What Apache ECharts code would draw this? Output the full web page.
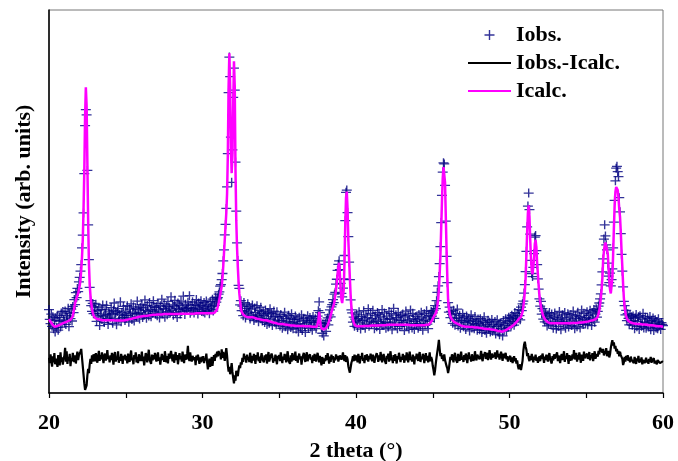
<!DOCTYPE html>
<html>
<head>
<meta charset="utf-8">
<title>XRD refinement</title>
<script src="https://cdn.jsdelivr.net/npm/echarts@6/dist/echarts.min.js"></script>
<style>
  html, body { margin: 0; padding: 0; background: #fff; }
  #chart { width: 678px; height: 461px; }
</style>
</head>
<body>
<div id="chart"></div>
<script>
// 2 theta grid: 20 -> 60 deg, step 0.05 (one row below = one degree)
var thetaStart = 20
var thetaStep = 0.05
var xTicks = [20, 30, 40, 50, 60]
var legendNames = ['Iobs.', 'Iobs.-Icalc.', 'Icalc.']

// observed intensity (arb. units)
var iObs = [
  21.8, 19.2, 18.1, 20.6, 17.4, 19.9, 16.8, 18.9, 15.9, 19.6, 17.1, 20.3, 16.4, 18.8, 19.7, 17.2, 20.9, 18.0, 21.3, 19.1,
  18.6, 21.4, 17.9, 20.2, 19.8, 22.1, 17.3, 20.7, 19.4, 21.9, 18.8, 22.6, 21.0, 24.4, 23.1, 26.2, 24.9, 27.3, 26.5, 29.0,
  30.2, 31.8, 33.5, 37.9, 41.2, 47.0, 57.3, 69.8, 74.0, 72.6, 58.1, 43.9, 34.8, 27.6, 24.1, 22.8, 21.3, 23.4, 20.7, 22.5,
  20.8, 23.2, 18.7, 21.5, 19.9, 22.4, 17.6, 20.3, 21.8, 19.2, 23.0, 20.1, 18.4, 21.7, 20.6, 22.9, 19.5, 17.9, 21.2, 20.4,
  19.8, 22.3, 20.7, 18.2, 21.6, 23.5, 19.4, 20.9, 17.8, 21.3, 22.0, 19.1, 20.5, 23.8, 18.6, 21.0, 19.7, 22.6, 20.2, 18.9,
  21.4, 19.6, 22.8, 20.3, 18.5, 21.9, 20.8, 23.3, 19.2, 21.1, 22.5, 18.8, 20.6, 22.1, 19.9, 24.0, 20.7, 21.8, 19.3, 22.4,
  21.0, 23.1, 19.7, 22.2, 20.4, 24.3, 21.6, 19.5, 22.9, 21.3, 20.1, 23.6, 21.8, 19.9, 22.7, 20.8, 24.1, 21.4, 22.3, 20.6,
  22.5, 20.2, 23.4, 21.7, 19.6, 22.8, 21.1, 24.5, 20.7, 22.0, 23.3, 19.8, 21.9, 22.6, 20.4, 23.9, 21.2, 22.4, 20.9, 25.1,
  21.5, 23.0, 20.3, 22.7, 24.2, 21.0, 22.1, 19.7, 23.5, 21.8, 22.9, 20.6, 24.0, 21.3, 22.4, 25.3, 21.9, 20.5, 23.2, 22.0,
  21.6, 23.7, 22.3, 25.4, 20.8, 22.9, 21.4, 23.8, 22.0, 20.9, 23.1, 21.7, 24.4, 22.2, 20.6, 23.5, 21.9, 22.8, 24.1, 21.3,
  22.7, 21.2, 23.6, 20.9, 22.4, 24.0, 21.5, 23.0, 22.1, 20.7, 23.9, 21.8, 22.6, 24.5, 21.4, 23.3, 22.9, 25.0, 23.7, 24.6,
  24.9, 25.8, 26.4, 27.9, 28.3, 29.6, 31.2, 34.5, 37.4, 41.3, 44.0, 48.2, 53.8, 62.5, 78.4, 87.7, 82.6, 66.8, 55.0, 63.5,
  77.2, 84.8, 79.1, 60.3, 47.5, 39.2, 34.6, 28.1, 27.3, 23.0, 24.1, 21.5, 22.7, 20.2, 23.6, 21.4, 19.6, 22.1, 20.8, 23.3,
  21.1, 22.6, 19.3, 21.9, 20.4, 23.0, 20.0, 18.9, 22.2, 21.0, 19.6, 22.8, 20.3, 18.6, 21.5, 19.9, 22.4, 20.7, 18.8, 21.3,
  20.2, 18.4, 21.7, 19.5, 17.9, 21.0, 20.6, 18.2, 22.0, 19.3, 20.8, 17.6, 19.9, 21.4, 18.5, 20.1, 17.8, 21.2, 19.0, 18.3,
  19.8, 17.5, 20.5, 18.9, 16.9, 20.0, 18.2, 21.1, 17.3, 19.4, 18.7, 16.5, 20.3, 18.0, 19.6, 17.1, 20.7, 18.4, 16.8, 19.2,
  18.6, 20.1, 16.7, 19.3, 17.9, 15.9, 19.8, 18.1, 17.0, 20.4, 16.3, 18.8, 19.5, 17.4, 15.8, 19.0, 18.3, 20.2, 16.9, 18.5,
  19.7, 17.2, 18.9, 16.4, 20.0, 18.3, 17.7, 19.4, 16.8, 18.6, 20.1, 21.5, 23.8, 21.0, 18.4, 17.3, 15.6, 18.1, 14.9, 17.5,
  18.2, 16.1, 18.9, 19.6, 17.8, 20.4, 21.7, 19.9, 22.5, 23.1, 24.4, 23.6, 25.8, 26.3, 28.4, 29.7, 32.0, 33.6, 34.5, 32.2,
  28.6, 26.0, 25.1, 27.4, 29.8, 35.9, 45.0, 52.4, 53.0, 47.1, 40.8, 34.2, 29.6, 24.3, 21.7, 20.9, 18.5, 19.8, 17.4, 19.3,
  18.8, 20.6, 17.1, 19.5, 21.2, 18.3, 16.7, 20.0, 18.9, 17.6, 21.5, 19.1, 16.9, 20.4, 18.0, 19.7, 22.0, 17.4, 18.6, 20.8,
  17.9, 19.4, 21.6, 18.5, 16.8, 20.2, 19.0, 17.3, 21.0, 18.7, 20.5, 16.6, 19.8, 18.2, 21.8, 17.7, 19.3, 20.9, 18.4, 16.9,
  20.1, 18.6, 17.2, 21.3, 19.5, 18.0, 20.7, 16.5, 19.2, 22.1, 18.3, 17.6, 20.4, 19.7, 16.8, 21.0, 18.9, 17.4, 20.2, 19.0,
  17.7, 20.6, 18.4, 16.3, 19.9, 21.4, 17.5, 18.8, 20.3, 16.7, 19.1, 21.7, 18.1, 17.0, 20.8, 19.4, 16.6, 18.7, 20.0, 17.9,
  19.2, 16.9, 20.5, 18.2, 17.4, 21.1, 19.6, 16.4, 18.9, 20.7, 17.8, 19.3, 21.5, 18.0, 16.8, 20.2, 18.7, 19.9, 21.3, 20.1,
  20.9, 21.6, 19.5, 22.8, 22.0, 24.1, 26.3, 28.0, 30.4, 33.8, 38.2, 44.5, 51.6, 57.7, 60.1, 59.8, 54.2, 44.9, 35.7, 28.8,
  23.6, 21.1, 22.4, 19.7, 21.3, 20.5, 18.2, 21.6, 19.4, 17.7, 20.8, 18.9, 21.9, 17.5, 19.6, 20.3, 16.9, 19.0, 18.6, 20.7,
  17.3, 19.8, 18.4, 16.6, 20.1, 18.9, 17.7, 19.5, 16.2, 18.7, 20.4, 17.0, 19.1, 18.2, 16.8, 20.0, 17.9, 18.6, 16.4, 19.3,
  18.1, 16.5, 19.4, 17.6, 15.8, 18.8, 17.2, 19.9, 16.3, 18.4, 15.6, 17.9, 19.0, 16.7, 18.5, 15.9, 17.4, 19.2, 16.1, 17.8,
  16.6, 18.7, 15.4, 17.3, 19.1, 16.0, 17.9, 15.2, 18.3, 16.8, 17.5, 14.9, 18.9, 16.4, 17.7, 19.4, 16.2, 18.6, 17.1, 19.8,
  18.2, 19.6, 17.5, 20.3, 18.8, 19.9, 17.7, 21.0, 19.3, 18.6, 20.7, 19.4, 21.8, 20.2, 19.1, 22.4, 21.5, 23.3, 24.0, 26.1,
  28.3, 31.7, 37.0, 43.4, 48.8, 52.2, 47.9, 41.5, 34.6, 31.2, 30.4, 32.8, 36.4, 40.7, 41.1, 37.2, 33.5, 29.8, 27.1, 24.6,
  22.7, 23.9, 20.6, 22.0, 19.3, 21.4, 18.6, 20.8, 19.9, 17.5, 20.2, 18.1, 21.0, 19.4, 17.8, 20.6, 18.5, 16.9, 19.7, 20.9,
  18.3, 16.7, 20.1, 19.2, 17.4, 21.3, 18.8, 16.5, 19.6, 20.4, 17.9, 18.6, 21.0, 16.9, 19.3, 18.1, 20.7, 17.2, 19.8, 18.4,
  20.5, 17.6, 19.0, 21.4, 18.2, 16.8, 20.2, 19.5, 17.3, 21.1, 18.7, 20.0, 17.0, 19.6, 21.7, 18.4, 17.9, 20.8, 19.2, 18.0,
  19.7, 21.2, 17.8, 20.3, 18.9, 21.6, 19.4, 17.6, 20.9, 19.1, 21.8, 18.5, 20.6, 22.0, 19.8, 21.3, 22.7, 23.5, 24.6, 25.9,
  28.2, 31.6, 35.0, 40.2, 43.9, 41.0, 38.7, 37.4, 33.9, 30.5, 28.8, 31.3, 28.0, 29.6, 32.4, 37.9, 44.6, 50.3, 55.4, 58.7,
  59.2, 57.8, 56.5, 51.0, 47.3, 41.6, 36.2, 31.8, 27.7, 23.9, 22.8, 20.4, 21.6, 18.9, 20.7, 19.5, 17.8, 20.3, 18.6, 19.9,
  17.7, 20.1, 18.9, 16.8, 19.6, 20.5, 17.3, 18.7, 19.9, 16.6, 20.2, 18.1, 17.4, 19.3, 20.8, 17.0, 18.5, 19.8, 16.9, 18.3,
  19.5, 17.2, 18.6, 20.0, 16.5, 18.9, 17.8, 19.6, 16.3, 18.2, 19.1, 17.0, 18.7, 16.8, 19.4, 17.5, 18.0, 16.6, 18.4, 17.9,
  17.6
]

// calculated profile
var iCalc = [
  19.3, 19.0, 18.6, 18.3, 18.0, 17.7, 17.5, 17.3, 17.2, 17.3, 17.4, 17.5, 17.6, 17.7, 17.8, 17.9, 18.0, 18.1, 18.2, 18.3,
  18.3, 18.4, 18.5, 18.6, 18.7, 18.8, 18.9, 19.0, 19.1, 19.2, 19.3, 20.0, 21.2, 22.3, 23.5, 24.2, 24.8, 25.4, 26.0, 27.0,
  28.0, 29.5, 32.0, 35.5, 40.0, 48.0, 58.0, 72.0, 79.8, 75.0, 60.0, 45.0, 34.0, 28.5, 25.5, 23.5, 22.0, 21.0, 20.3, 19.9,
  19.6, 19.5, 19.4, 19.3, 19.3, 19.2, 19.2, 19.1, 19.1, 19.0, 19.0, 19.0, 19.0, 19.0, 19.0, 19.0, 19.0, 19.0, 19.0, 19.0,
  19.0, 19.0, 19.0, 19.0, 19.0, 18.9, 18.9, 18.9, 18.9, 18.9, 18.9, 18.9, 18.9, 18.9, 18.9, 18.9, 18.9, 18.9, 19.0, 19.0,
  19.0, 19.1, 19.1, 19.2, 19.2, 19.3, 19.3, 19.4, 19.4, 19.5, 19.5, 19.6, 19.6, 19.7, 19.7, 19.8, 19.8, 19.9, 19.9, 20.0,
  20.0, 20.0, 20.0, 20.1, 20.1, 20.1, 20.1, 20.2, 20.2, 20.2, 20.2, 20.3, 20.3, 20.3, 20.3, 20.4, 20.4, 20.4, 20.4, 20.5,
  20.5, 20.5, 20.5, 20.5, 20.5, 20.5, 20.5, 20.5, 20.5, 20.5, 20.6, 20.6, 20.6, 20.6, 20.6, 20.6, 20.6, 20.6, 20.6, 20.6,
  20.6, 20.6, 20.6, 20.6, 20.6, 20.6, 20.6, 20.6, 20.6, 20.6, 20.7, 20.7, 20.7, 20.7, 20.7, 20.7, 20.7, 20.7, 20.7, 20.7,
  20.7, 20.7, 20.7, 20.7, 20.7, 20.7, 20.7, 20.7, 20.7, 20.7, 20.8, 20.8, 20.8, 20.8, 20.8, 20.8, 20.8, 20.8, 20.8, 20.8,
  20.8, 20.8, 20.8, 20.8, 20.8, 20.8, 20.8, 20.8, 20.8, 20.8, 20.8, 20.8, 20.8, 20.8, 20.9, 20.9, 21.0, 21.0, 21.2, 21.8,
  22.6, 23.5, 24.5, 25.6, 26.7, 27.8, 30.0, 33.0, 36.5, 40.0, 43.5, 47.0, 52.0, 62.0, 80.0, 88.7, 80.0, 64.0, 57.4, 62.0,
  75.0, 86.6, 80.0, 58.0, 45.0, 38.0, 33.0, 29.0, 26.0, 24.0, 22.2, 21.2, 20.8, 20.5, 20.3, 20.1, 20.0, 19.9, 19.8, 19.8,
  19.8, 19.8, 19.8, 19.8, 19.8, 19.8, 19.8, 19.7, 19.6, 19.6, 19.5, 19.4, 19.4, 19.3, 19.3, 19.2, 19.2, 19.1, 19.1, 19.0,
  19.0, 19.0, 19.0, 19.0, 19.0, 18.9, 18.8, 18.7, 18.6, 18.6, 18.5, 18.5, 18.4, 18.4, 18.3, 18.3, 18.2, 18.2, 18.1, 18.1,
  18.1, 18.0, 18.0, 18.0, 18.0, 17.9, 17.9, 17.9, 17.8, 17.8, 17.8, 17.7, 17.7, 17.7, 17.7, 17.6, 17.6, 17.6, 17.6, 17.6,
  17.6, 17.6, 17.5, 17.5, 17.5, 17.5, 17.5, 17.5, 17.5, 17.5, 17.5, 17.5, 17.4, 17.4, 17.4, 17.4, 17.4, 17.4, 17.4, 17.4,
  17.4, 17.4, 17.4, 17.3, 17.3, 17.3, 17.3, 17.3, 17.3, 17.3, 17.6, 19.0, 21.2, 19.5, 17.5, 16.9, 16.7, 16.6, 16.6, 16.7,
  16.8, 17.0, 17.3, 17.7, 18.2, 18.8, 19.5, 20.3, 21.0, 21.8, 22.2, 23.0, 24.0, 25.5, 27.0, 28.8, 31.0, 33.0, 34.0, 31.0,
  27.0, 24.5, 23.5, 24.0, 27.0, 34.0, 44.0, 51.0, 52.6, 48.0, 40.0, 35.0, 30.0, 25.5, 22.5, 20.4, 19.2, 18.4, 17.9, 17.6,
  17.4, 17.4, 17.4, 17.4, 17.4, 17.4, 17.4, 17.4, 17.4, 17.4, 17.5, 17.5, 17.5, 17.5, 17.5, 17.5, 17.5, 17.5, 17.5, 17.5,
  17.6, 17.6, 17.6, 17.6, 17.6, 17.6, 17.6, 17.6, 17.6, 17.6, 17.7, 17.7, 17.7, 17.7, 17.7, 17.7, 17.7, 17.7, 17.7, 17.7,
  17.8, 17.8, 17.8, 17.8, 17.8, 17.8, 17.8, 17.8, 17.8, 17.8, 17.8, 17.8, 17.8, 17.8, 17.8, 17.8, 17.8, 17.8, 17.8, 17.8,
  17.8, 17.8, 17.8, 17.8, 17.8, 17.8, 17.8, 17.8, 17.8, 17.8, 17.7, 17.7, 17.7, 17.7, 17.7, 17.7, 17.7, 17.7, 17.7, 17.7,
  17.7, 17.7, 17.7, 17.7, 17.7, 17.7, 17.7, 17.7, 17.7, 17.7, 17.7, 17.7, 17.8, 17.8, 17.9, 17.9, 18.0, 18.3, 18.6, 19.0,
  19.4, 19.8, 20.2, 20.5, 20.8, 21.5, 22.8, 24.3, 27.0, 31.0, 36.0, 43.0, 50.0, 56.0, 59.0, 59.5, 55.0, 46.0, 37.3, 30.0,
  24.3, 22.0, 20.8, 20.0, 19.5, 19.2, 18.9, 18.7, 18.5, 18.4, 18.3, 18.2, 18.1, 18.0, 17.9, 17.8, 17.7, 17.6, 17.5, 17.4,
  17.4, 17.4, 17.4, 17.3, 17.3, 17.3, 17.3, 17.3, 17.2, 17.2, 17.2, 17.2, 17.2, 17.1, 17.1, 17.1, 17.1, 17.1, 17.1, 17.1,
  17.1, 17.0, 17.0, 17.0, 16.9, 16.9, 16.9, 16.8, 16.8, 16.8, 16.7, 16.7, 16.7, 16.7, 16.6, 16.6, 16.6, 16.6, 16.5, 16.5,
  16.5, 16.4, 16.4, 16.3, 16.3, 16.2, 16.2, 16.1, 16.1, 16.0, 16.0, 16.0, 16.1, 16.2, 16.3, 16.4, 16.5, 16.6, 16.7, 16.8,
  17.0, 17.1, 17.3, 17.4, 17.5, 17.7, 17.9, 18.1, 18.3, 18.5, 18.8, 19.0, 19.3, 19.5, 19.7, 19.9, 20.2, 21.2, 22.5, 24.2,
  26.5, 30.0, 36.0, 42.0, 47.0, 49.0, 46.0, 40.0, 35.0, 32.0, 31.0, 31.0, 35.0, 39.0, 40.0, 38.0, 34.0, 31.0, 28.0, 25.5,
  23.8, 22.5, 21.5, 20.7, 20.1, 19.6, 19.3, 19.0, 18.8, 18.6, 18.5, 18.4, 18.3, 18.3, 18.2, 18.2, 18.2, 18.2, 18.2, 18.2,
  18.2, 18.2, 18.2, 18.2, 18.2, 18.2, 18.2, 18.2, 18.2, 18.2, 18.2, 18.2, 18.2, 18.2, 18.2, 18.2, 18.2, 18.2, 18.2, 18.2,
  18.3, 18.3, 18.3, 18.3, 18.3, 18.3, 18.3, 18.3, 18.3, 18.3, 18.4, 18.4, 18.4, 18.4, 18.4, 18.5, 18.5, 18.5, 18.5, 18.5,
  18.6, 18.6, 18.7, 18.7, 18.8, 18.8, 18.9, 18.9, 19.0, 19.0, 19.1, 19.2, 19.3, 19.4, 19.6, 19.9, 20.4, 21.5, 23.0, 24.8,
  26.9, 30.0, 34.7, 37.0, 38.5, 39.3, 39.5, 39.0, 36.5, 33.0, 29.5, 27.0, 26.0, 26.5, 30.0, 36.0, 43.0, 49.0, 52.5, 53.8,
  53.9, 53.0, 51.0, 48.0, 46.0, 42.0, 37.0, 33.0, 28.5, 24.8, 22.5, 21.0, 20.0, 19.4, 19.0, 18.8, 18.6, 18.5, 18.4, 18.3,
  18.2, 18.2, 18.2, 18.1, 18.1, 18.1, 18.1, 18.0, 18.0, 18.0, 18.0, 18.0, 17.9, 17.9, 17.9, 17.9, 17.9, 17.8, 17.8, 17.8,
  17.8, 17.8, 17.7, 17.7, 17.7, 17.7, 17.6, 17.6, 17.6, 17.6, 17.5, 17.5, 17.5, 17.5, 17.4, 17.4, 17.4, 17.4, 17.3, 17.3,
  17.3
]

// difference curve, drawn with an offset below the pattern
var iDiff = [
  9.2, 7.8, 10.1, 8.3, 6.9, 9.6, 8.0, 10.4, 7.5, 9.0, 8.4, 6.8, 9.9, 8.7, 7.2, 10.6, 8.1, 9.3, 7.4, 8.9,
  9.7, 11.8, 8.2, 10.9, 7.6, 9.4, 8.5, 10.2, 7.0, 9.1, 8.3, 10.5, 9.0, 8.1, 9.8, 7.7, 9.5, 10.8, 8.6, 9.9,
  9.4, 10.8, 11.5, 9.2, 7.0, 4.8, 2.5, 0.8, 0.3, 2.0, 4.6, 6.3, 5.2, 7.4, 8.9, 7.6, 9.8, 8.2, 10.1, 9.0,
  8.3, 10.4, 9.1, 7.9, 9.6, 11.0, 8.4, 9.9, 8.8, 10.6, 9.3, 7.8, 9.7, 10.3, 8.5, 9.2, 11.2, 8.9, 9.5, 8.0,
  9.8, 8.6, 10.5, 9.0, 7.4, 9.9, 10.7, 8.2, 9.4, 8.7, 10.9, 7.9, 9.3, 8.4, 10.2, 9.1, 7.6, 9.7, 8.8, 10.0,
  8.5, 9.6, 7.7, 10.3, 9.0, 8.1, 9.8, 11.1, 8.6, 9.2, 7.5, 9.9, 8.9, 10.6, 8.0, 9.4, 7.8, 10.1, 9.3, 8.4,
  9.1, 10.8, 8.3, 9.5, 7.2, 8.9, 10.4, 9.7, 8.0, 9.6, 11.3, 8.7, 9.2, 7.6, 10.0, 8.5, 9.9, 8.8, 10.5, 9.0,
  8.2, 9.7, 10.6, 8.4, 9.3, 7.4, 9.0, 10.2, 8.6, 9.8, 8.1, 10.9, 9.4, 8.0, 9.6, 7.7, 10.3, 8.9, 9.1, 11.0,
  9.5, 8.3, 10.1, 7.9, 9.2, 10.7, 8.6, 9.9, 7.5, 9.0, 10.4, 8.8, 9.6, 8.2, 10.8, 9.3, 7.8, 10.0, 9.4, 8.7,
  10.2, 12.3, 9.1, 8.4, 10.6, 9.0, 8.2, 9.7, 10.1, 8.6, 9.4, 7.3, 9.8, 8.5, 10.0, 8.9, 7.6, 9.3, 8.0, 9.5,
  8.3, 9.6, 7.8, 9.1, 8.5, 10.3, 8.0, 6.2, 7.4, 9.0, 6.8, 8.2, 9.4, 7.1, 8.7, 9.9, 8.4, 10.2, 9.3, 10.8,
  9.6, 11.0, 9.9, 10.5, 8.8, 11.4, 9.2, 10.7, 9.6, 8.4, 10.1, 11.7, 9.8, 7.3, 5.6, 6.8, 4.9, 6.2, 7.8, 5.5,
  3.9, 2.5, 4.6, 3.2, 5.8, 6.1, 4.4, 6.0, 7.2, 6.5, 8.0, 7.4, 9.2, 8.1, 10.3, 8.9, 9.6, 7.9, 10.0, 8.6,
  9.4, 8.1, 10.5, 9.2, 7.8, 9.7, 8.5, 10.2, 9.0, 7.6, 9.9, 8.7, 10.6, 8.3, 9.5, 7.9, 9.1, 10.4, 8.8, 9.3,
  8.0, 9.8, 8.6, 10.1, 7.7, 9.4, 10.7, 8.2, 9.0, 8.5, 10.3, 9.6, 7.9, 9.1, 8.4, 10.0, 8.8, 7.5, 9.7, 8.9,
  9.9, 8.3, 10.6, 9.1, 7.8, 9.5, 8.7, 10.2, 9.3, 8.0, 9.6, 10.9, 8.5, 9.0, 7.6, 9.8, 8.2, 10.4, 9.2, 8.6,
  9.5, 10.8, 8.4, 9.7, 7.9, 9.2, 10.3, 8.8, 9.6, 7.4, 9.1, 8.6, 10.5, 9.0, 8.1, 9.9, 10.6, 8.3, 9.4, 8.9,
  10.1, 8.7, 9.3, 7.8, 9.8, 8.4, 10.2, 9.0, 8.2, 9.6, 10.5, 9.1, 8.0, 9.7, 8.5, 7.2, 9.4, 8.8, 7.6, 9.0,
  8.3, 9.9, 8.6, 10.4, 9.2, 7.7, 9.5, 8.1, 10.0, 8.8, 9.6, 7.9, 9.3, 8.5, 10.1, 8.9, 9.7, 8.2, 9.0, 9.8,
  10.3, 8.7, 9.4, 10.6, 9.0, 8.4, 9.9, 8.1, 9.5, 8.8, 7.0, 6.1, 5.3, 6.6, 7.9, 8.5, 9.6, 8.3, 10.0, 9.1,
  8.5, 9.8, 8.0, 10.2, 9.3, 7.7, 9.6, 8.9, 10.5, 8.4, 9.1, 7.8, 9.9, 8.6, 10.1, 9.4, 8.2, 9.7, 8.8, 10.3,
  9.0, 8.3, 10.0, 9.5, 7.9, 9.2, 8.7, 10.4, 9.6, 8.1, 9.8, 8.5, 10.7, 9.3, 8.0, 9.4, 10.2, 8.8, 9.1, 7.6,
  9.7, 8.9, 10.3, 8.2, 9.5, 10.9, 8.6, 9.2, 7.8, 9.9, 8.4, 10.1, 9.0, 7.7, 9.6, 8.8, 10.5, 9.3, 8.1, 9.4,
  8.7, 10.2, 9.1, 7.9, 9.8, 8.5, 10.6, 9.3, 8.0, 9.7, 10.8, 8.6, 9.4, 8.2, 10.0, 9.2, 7.5, 9.6, 8.9, 10.3,
  9.0, 8.4, 9.9, 10.7, 8.1, 9.5, 8.8, 10.2, 9.6, 7.8, 9.3, 10.4, 8.5, 9.7, 8.0, 9.1, 10.6, 8.3, 9.4, 8.7,
  7.1, 6.0, 4.6, 5.9, 7.8, 9.4, 10.8, 12.2, 13.9, 11.5, 9.6, 10.4, 8.9, 9.8, 8.3, 10.1, 8.6, 7.8, 7.0, 6.4,
  5.2, 6.3, 7.9, 9.4, 8.6, 10.1, 9.2, 8.0, 9.7, 10.5, 8.8, 9.3, 7.9, 10.2, 9.0, 8.4, 9.6, 10.8, 8.7, 9.5,
  8.1, 9.9, 8.6, 10.3, 9.2, 7.8, 9.4, 10.6, 8.9, 9.5, 8.2, 10.1, 9.7, 8.4, 9.0, 10.9, 9.3, 8.5, 10.0, 9.6,
  10.4, 8.8, 9.5, 11.0, 9.1, 8.3, 10.2, 9.6, 10.7, 8.9, 9.8, 10.5, 8.6, 9.4, 11.2, 9.9, 8.7, 10.3, 9.2, 10.0,
  9.4, 10.6, 8.9, 9.8, 11.1, 9.3, 10.2, 8.7, 9.9, 10.8, 9.5, 8.4, 10.3, 9.1, 9.7, 10.5, 8.8, 9.6, 8.2, 9.0,
  8.6, 9.7, 8.1, 9.3, 7.8, 8.9, 9.6, 8.3, 9.1, 7.7, 8.5, 7.0, 6.2, 6.8, 7.5, 6.0, 6.3, 8.4, 10.9, 12.6,
  13.4, 12.1, 11.3, 9.6, 10.4, 9.0, 8.3, 9.7, 8.6, 10.2, 9.1, 8.0, 9.5, 8.7, 10.0, 8.4, 9.3, 7.9, 8.8, 9.6,
  8.3, 9.8, 8.9, 10.3, 9.2, 7.9, 9.5, 8.6, 10.0, 9.1, 8.2, 9.7, 10.4, 8.8, 9.3, 7.7, 9.6, 8.5, 10.1, 9.0,
  8.7, 9.4, 10.6, 8.3, 9.8, 9.0, 7.8, 9.5, 10.2, 8.6, 9.3, 10.9, 8.1, 9.6, 8.9, 10.4, 9.2, 7.6, 9.9, 8.4,
  9.7, 8.5, 10.1, 9.0, 11.2, 8.8, 9.4, 10.5, 8.2, 9.9, 8.7, 10.6, 9.3, 7.9, 10.0, 9.5, 8.4, 10.8, 9.1, 8.6,
  9.6, 10.3, 8.9, 9.4, 10.7, 8.5, 9.9, 9.1, 10.4, 8.3, 9.7, 10.9, 9.0, 8.6, 10.2, 9.5, 11.0, 10.1, 11.8, 12.0,
  12.1, 10.6, 11.5, 9.8, 10.9, 10.2, 11.7, 9.6, 10.4, 11.0, 9.3, 10.1, 11.8, 12.9, 13.8, 12.4, 13.2, 11.6, 12.3, 10.9,
  11.5, 10.2, 11.0, 9.6, 10.8, 9.9, 10.4, 8.9, 7.3, 8.0, 9.4, 8.2, 9.7, 8.6, 9.9, 8.4, 9.2, 8.0, 9.5, 8.7,
  8.2, 9.1, 7.8, 9.4, 8.5, 7.6, 9.0, 8.3, 9.7, 7.9, 8.8, 8.1, 9.3, 7.5, 8.6, 9.0, 7.8, 8.4, 9.2, 8.0,
  8.7, 7.6, 8.9, 8.2, 9.4, 7.9, 8.5, 8.0, 9.1, 7.7, 8.4, 8.8, 7.5, 8.6, 8.1, 9.0, 7.8, 8.3, 8.0, 8.2,
  8.1
]

var twoTheta = iObs.map(function (v, i) {
  return +(thetaStart + i * thetaStep).toFixed(2)
})
function toPairs(ys) {
  return ys.map(function (y, i) { return [twoTheta[i], y] })
}

var serif = "'Liberation Serif', 'Times New Roman', serif"
var boldText = { fontFamily: serif, fontSize: 22, fontWeight: 'bold', color: '#000' }
// "+" marker
var plusPath = 'path://M0,4.3H10V5.7H0Z M4.3,0H5.7V10H4.3Z'
// plain line for the legend (empty sub-paths keep the 43x10 box)
var lineIcon = 'path://M0,0H43V0Z M0,10H43V10Z M0,4H43V6H0Z'

var myChart = echarts.init(document.getElementById('chart'), null, { renderer: 'canvas' })
myChart.setOption({
  animation: false,
  grid: {
    left: 49,
    right: 15,
    top: 10,
    bottom: 68,
    show: true,
    borderColor: '#777',
    borderWidth: 1,
    outerBoundsMode: 'none'
  },
  legend: {
    orient: 'vertical',
    left: 468,
    top: 24,
    padding: 0,
    itemWidth: 43,
    itemHeight: 10,
    itemGap: 6,
    textStyle: boldText,
    data: [
      { name: legendNames[0] },
      { name: legendNames[1], icon: lineIcon },
      { name: legendNames[2], icon: lineIcon }
    ]
  },
  xAxis: {
    type: 'value',
    min: 20,
    max: 60,
    interval: 5,
    name: '2 theta (°)',
    nameLocation: 'middle',
    nameGap: 47,
    nameTextStyle: boldText,
    axisLine: { lineStyle: { color: '#000', width: 1.5 } },
    axisTick: { length: 5, lineStyle: { color: '#000', width: 1.2 } },
    axisLabel: {
      margin: 19,
      fontFamily: serif,
      fontSize: 22,
      fontWeight: 'bold',
      color: '#000',
      formatter: function (v) {
        return xTicks.indexOf(v) > -1 ? String(v) : ''
      }
    },
    splitLine: { show: false }
  },
  yAxis: {
    type: 'value',
    min: 0,
    max: 100,
    name: 'Intensity (arb. units)',
    nameLocation: 'middle',
    nameGap: 14,
    nameTextStyle: boldText,
    axisLine: { show: true, lineStyle: { color: '#000', width: 1.5 } },
    axisTick: { show: false },
    axisLabel: { show: false },
    splitLine: { show: false }
  },
  series: [
    {
      name: 'Iobs.',
      type: 'scatter',
      silent: true,
      symbol: plusPath,
      symbolSize: [10, 9],
      itemStyle: { color: '#000080' },
      data: toPairs(iObs)
    },
    {
      name: 'Iobs.-Icalc.',
      type: 'line',
      silent: true,
      symbol: 'none',
      lineStyle: { color: '#000', width: 2.2 },
      itemStyle: { color: '#000' },
      data: toPairs(iDiff)
    },
    {
      name: 'Icalc.',
      type: 'line',
      silent: true,
      symbol: 'none',
      lineStyle: { color: '#ff00ff', width: 2.5 },
      itemStyle: { color: '#ff00ff' },
      data: toPairs(iCalc)
    }
  ]
})
</script>
</body>
</html>
